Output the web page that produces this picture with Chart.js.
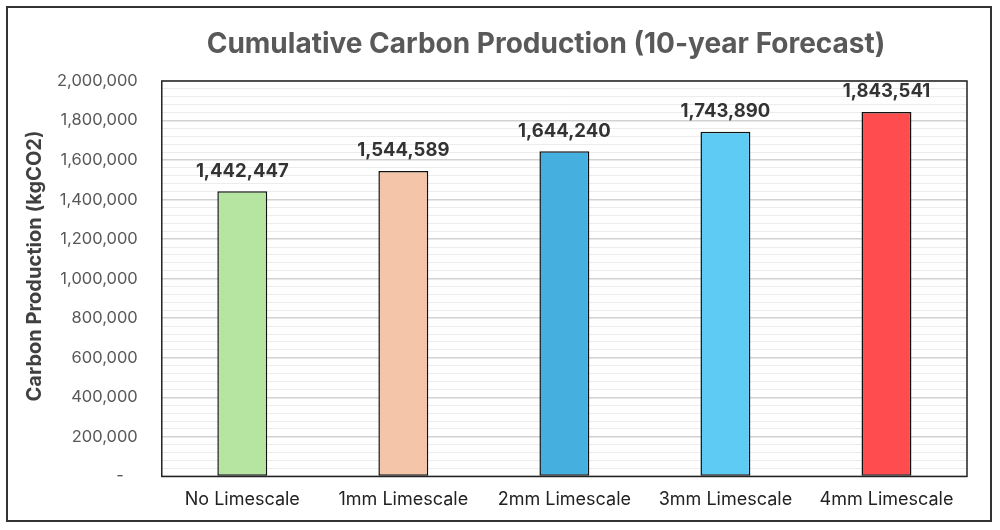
<!DOCTYPE html>
<html>
<head>
<meta charset="utf-8">
<script src="https://cdn.jsdelivr.net/npm/chart.js@4"></script>
<style>
  html, body { margin: 0; padding: 0; background: #fff; }
  #frame {
    position: absolute; left: 6px; top: 6px;
    width: 982px; height: 512px;
    border: 2px solid #333;
  }
  #chart { display: block; }
</style>
</head>
<body>
<div id="frame"><canvas id="chart" width="982" height="512"></canvas></div>
<script>
// data
const categories = ['No Limescale', '1mm Limescale', '2mm Limescale', '3mm Limescale', '4mm Limescale'];
const carbon = [1442447, 1544589, 1644240, 1743890, 1843541];
const barColors = ['#b5e5a1', '#f5c5aa', '#45afe0', '#5ecbf5', '#ff4d4f'];
const yMajorTicks = [0, 200000, 400000, 600000, 800000, 1000000, 1200000, 1400000, 1600000, 1800000, 2000000];

const FONT = 'Inter, "Liberation Sans", sans-serif';
const fmt = v => v.toLocaleString('en-US');

// ── value labels, titles, plot frame ────────────────────────────────────────
const extras = {
  id: 'extras',
  afterDatasetsDraw(chart) {
    const { ctx, chartArea } = chart;
    ctx.save();
    ctx.font = `bold 18.5px ${FONT}`;
    ctx.fillStyle = '#333';
    ctx.textAlign = 'center';
    ctx.textBaseline = 'bottom';
    chart.getDatasetMeta(0).data.forEach((bar, i) => {
      ctx.fillText(fmt(carbon[i]), bar.x, bar.y - 11);
    });
    ctx.strokeStyle = '#222';
    ctx.lineWidth = 1.5;
    ctx.strokeRect(chartArea.left, chartArea.top, chartArea.right - chartArea.left, chartArea.bottom - chartArea.top);

    // chart title
    ctx.font = `bold 28px ${FONT}`;
    ctx.fillStyle = '#595959';
    ctx.textBaseline = 'middle';
    ctx.fillText('Cumulative Carbon Production (10-year Forecast)', 538, 37);

    // y axis title
    ctx.translate(27, 258);
    ctx.rotate(-Math.PI / 2);
    ctx.font = `bold 20px ${FONT}`;
    ctx.fillStyle = '#404040';
    ctx.fillText('Carbon Production (kgCO2)', 0, 0);
    ctx.restore();
  }
};

new Chart(document.getElementById('chart'), {
  type: 'bar',
  data: {
    labels: categories,
    datasets: [{
      data: carbon,
      backgroundColor: barColors,
      borderColor: '#111',
      borderWidth: 1.5,
      borderSkipped: false,
      barPercentage: 0.31,
      categoryPercentage: 1,
    }]
  },
  options: {
    responsive: false,
    animation: false,
    layout: { padding: { top: 73, right: 23, bottom: -2, left: 25 } },
    plugins: {
      legend: { display: false },
      tooltip: { enabled: false },
    },
    scales: {
      x: {
        grid: { display: false, drawTicks: false },
        border: { display: false },
        ticks: { color: '#222', font: { family: FONT, size: 18 }, padding: 12, maxRotation: 0 },
      },
      y: {
        min: 0, max: 2000000,
        afterBuildTicks: axis => {
          const t = [];
          for (let i = 0; i < yMajorTicks.length - 1; i++) {
            for (let k = 0; k < 5; k++) t.push({ value: yMajorTicks[i] + k * (yMajorTicks[i + 1] - yMajorTicks[i]) / 5 });
          }
          t.push({ value: yMajorTicks[yMajorTicks.length - 1] });
          axis.ticks = t;
        },
        grid: {
          drawTicks: false,
          color: c => (yMajorTicks.includes(c.tick.value) ? '#d2d2d2' : '#ececec'),
          lineWidth: c => (yMajorTicks.includes(c.tick.value) ? 1.5 : 1),
        },
        border: { display: false },
        ticks: {
          autoSkip: false,
          padding: 24,
          color: '#595959',
          font: { family: FONT, size: 16.5 },
          callback: v => (yMajorTicks.includes(v) ? (v === 0 ? '-   ' : fmt(v)) : ''),
        },
      }
    }
  },
  plugins: [extras]
});
</script>
</body>
</html>
